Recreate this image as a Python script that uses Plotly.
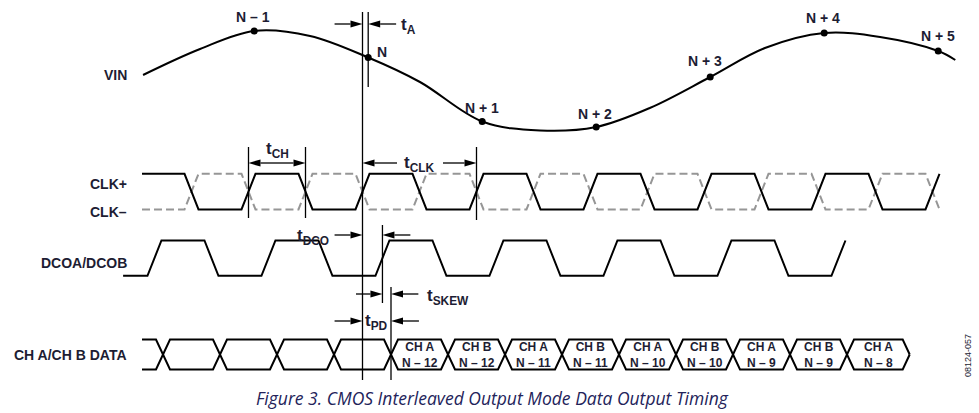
import plotly.graph_objects as go

W, H = 979, 413

# ---- timing, in clock periods; t = 0 is the CLK+ rising edge that samples N ----
T_A = 0.05        # aperture delay
T_DCO = 0.175     # CLK+ to DCO delay
T_PD = 0.25       # CLK+ to data propagation delay
HALF_EDGE = 0.0614

clk_start = -1.934
clk_edges = [-1.5, -1.0, -0.5, 0.0, 0.5, 1.0, 1.5, 2.0, 2.5, 3.0, 3.5, 4.0, 4.5, 5.0]

dco_start = -2.10
dco_edges = [-1.825, -1.325, -0.825, -0.325, 0.175, 0.675, 1.175, 1.675,
             2.175, 2.675, 3.175, 3.675, 4.175]

data_start, data_end = -1.934, 4.80
data_edges = [-1.75, -1.25, -0.75, -0.25, 0.25, 0.75, 1.25, 1.75,
              2.25, 2.75, 3.25, 3.75, 4.25]
cell_channel = ["A", "B", "A", "B", "A", "B", "A", "B", "A"]
cell_sample = [-12, -12, -11, -11, -10, -10, -9, -9, -8]

# analog input, normalised
vin_t = [-1.925, -1.425, -0.95, -0.46, 0.05, 0.504, 1.05, 1.557,
         2.05, 2.52, 3.05, 3.53, 4.05, 4.54, 5.05, 5.20]
vin_v = [0.12, 0.64, 1.00, 0.90, 0.47, -0.02, -0.81, -0.99,
         -0.92, -0.54, 0.08, 0.66, 0.96, 0.88, 0.60, 0.42]

sample_n = [-1, 0, 1, 2, 3, 4, 5]
sample_v = [1.00, 0.47, -0.81, -0.92, 0.08, 0.96, 0.60]
# label offset from each dot (px right, px up)
sample_label_shift = [(-1, 14), (14, 6), (0, 14), (-1, 13), (-5, 16), (-1, 15), (0, 15)]

# ---- layout frame helpers ----
X0_PX, PX_PER_T = 362.5, 114.0
FONT = "Liberation Sans, Arial, sans-serif"
INK = "#1d1d33"
DASH_GREY = "#969696"


def tx(px):
    return (px - X0_PX) / PX_PER_T


def py(p):
    return 1 - p / H


def dom(p_bottom, p_top):
    return [py(p_bottom), py(p_top)]


def wave(start, edges, level):
    xs, ys = [start], [level]
    for e in edges:
        xs += [e - HALF_EDGE, e + HALF_EDGE]
        ys += [level, 1 - level]
        level = 1 - level
    return xs, ys


fig = go.Figure()

# VIN
fig.add_trace(go.Scatter(x=vin_t, y=vin_v, mode="lines", yaxis="y",
                         line=dict(color="black", width=2, shape="spline", smoothing=1.0),
                         hoverinfo="skip"))
sample_t = [n + T_A for n in sample_n]
fig.add_trace(go.Scatter(x=sample_t, y=sample_v, mode="markers", yaxis="y",
                         marker=dict(color="black", size=7), hoverinfo="skip"))

# CLK- (dashed) then CLK+ (solid)
cx, cy = wave(clk_start, clk_edges, 0)
cx.append(clk_edges[-1] + HALF_EDGE); cy.append(cy[-1])
fig.add_trace(go.Scatter(x=cx, y=cy, mode="lines", yaxis="y2",
                         line=dict(color=DASH_GREY, width=2, dash="8px,4px"), hoverinfo="skip"))
cx, cy = wave(clk_start, clk_edges, 1)
fig.add_trace(go.Scatter(x=cx, y=cy, mode="lines", yaxis="y2",
                         line=dict(color="black", width=2), hoverinfo="skip"))

# DCO
dx, dy = wave(dco_start, dco_edges, 0)
fig.add_trace(go.Scatter(x=dx, y=dy, mode="lines", yaxis="y3",
                         line=dict(color="black", width=2), hoverinfo="skip"))

# data bus: two complementary rails that cross at every data edge
for lvl in (1, 0):
    bx, by = wave(data_start, data_edges, lvl)
    bx += [data_end - HALF_EDGE, data_end]
    by += [by[-1], 0.5]
    fig.add_trace(go.Scatter(x=bx, y=by, mode="lines", yaxis="y4",
                             line=dict(color="black", width=2), hoverinfo="skip"))

shapes, annos = [], []


def vline(t, p_top, p_bot):
    shapes.append(dict(type="line", xref="x", yref="paper", x0=t, x1=t,
                       y0=py(p_top), y1=py(p_bot), line=dict(color="black", width=1.3)))


HEAD_L, HEAD_HW = 12 / PX_PER_T, 3.6


def arrow(tail, tip, p):
    d = 1 if tip > tail else -1
    base = tip - d * HEAD_L
    shapes.append(dict(type="line", xref="x", yref="paper", x0=tail, x1=base,
                       y0=py(p), y1=py(p), line=dict(color="black", width=1.3)))
    shapes.append(dict(type="path", xref="x", yref="paper",
                       path=f"M {tip},{py(p)} L {base},{py(p - HEAD_HW)} L {base},{py(p + HEAD_HW)} Z",
                       fillcolor="black", line=dict(width=0)))


def label(text, x, p, anchor="center", size=17, xref="x"):
    annos.append(dict(text=text, x=x, y=py(p), xref=xref, yref="paper", xanchor=anchor,
                      yanchor="middle", showarrow=False,
                      font=dict(family=FONT, size=size, color=INK)))


OUT = 0.245  # length of the outside dimension arrows

# reference lines
vline(0.0, 12, 380)
vline(T_A, 12, 87)
vline(clk_edges[1], 147, 218)
vline(clk_edges[2], 147, 218)
vline(clk_edges[5], 147, 220)
vline(T_DCO, 225, 303)
vline(T_PD, 287, 380)

# tA
arrow(0.0 - OUT, 0.0, 24); arrow(T_A + OUT, T_A, 24)
label("<b>t<sub>A</sub></b>", tx(399), 26, "left")
# tCH
mid = (clk_edges[1] + clk_edges[2]) / 2
arrow(mid, clk_edges[1], 163); arrow(mid, clk_edges[2], 163)
label("<b>t<sub>CH</sub></b>", mid, 150)
# tCLK
arrow(0.0 + 0.303, 0.0, 163); arrow(clk_edges[5] - 0.294, clk_edges[5], 163)
label("<b>t<sub>CLK</sub></b>", 0.5, 164)
# tDCO
arrow(0.0 - OUT, 0.0, 235); arrow(T_DCO + OUT, T_DCO, 235)
label("<b>t<sub>DCO</sub></b>", tx(331), 237, "right")
# tSKEW
arrow(T_DCO - 0.232, T_DCO, 294); arrow(T_PD + 0.24, T_PD, 294)
label("<b>t<sub>SKEW</sub></b>", tx(425), 297, "left")
# tPD
arrow(0.0 - OUT, 0.0, 321); arrow(T_PD + OUT, T_PD, 321)
label("<b>t<sub>PD</sub></b>", T_PD / 2, 322)

# row names
for txt, p in [("VIN", 75), ("CLK+", 184), ("CLK–", 212),
               ("DCOA/DCOB", 263), ("CH A/CH B DATA", 355)]:
    label(f"<b>{txt}</b>", 129 / W, p, "right", 14, "paper")

# sample names
for n, t, v, (sx, sy) in zip(sample_n, sample_t, sample_v, sample_label_shift):
    name = "N" if n == 0 else (f"N + {n}" if n > 0 else f"N – {-n}")
    annos.append(dict(text=f"<b>{name}</b>", x=t, y=v, xref="x", yref="y",
                      xshift=sx, yshift=sy, showarrow=False,
                      xanchor="center", yanchor="middle",
                      font=dict(family=FONT, size=14, color=INK)))

# data cell contents
starts = data_edges[4:]
ends = data_edges[5:] + [data_end]
for ch, n, a, b in zip(cell_channel, cell_sample, starts, ends):
    annos.append(dict(text=f"<b>CH {ch}<br>N – {-n}</b>", x=(a + b) / 2, y=0.5,
                      xref="x", yref="y4", showarrow=False,
                      xanchor="center", yanchor="middle",
                      font=dict(family=FONT, size=12, color=INK)))

# caption and figure code
annos.append(dict(text="<i>Figure 3. CMOS Interleaved Output Mode Data Output Timing</i>",
                  x=492 / W, y=py(398), xref="paper", yref="paper", showarrow=False,
                  xanchor="center", yanchor="middle",
                  font=dict(family="Open Sans, sans-serif", size=17.5, color="#23235a")))
annos.append(dict(text="08124-057", x=968 / W, y=py(356), xref="paper", yref="paper",
                  showarrow=False, textangle=-90, xanchor="center", yanchor="middle",
                  font=dict(family=FONT, size=9, color=INK)))

hidden = dict(visible=False, fixedrange=True)
fig.update_layout(
    width=W, height=H, margin=dict(l=0, r=0, t=0, b=0),
    paper_bgcolor="white", plot_bgcolor="white", showlegend=False,
    xaxis=dict(range=[tx(0), tx(W)], domain=[0, 1], anchor="y", **hidden),
    yaxis=dict(range=[-1.5, 1.5], domain=dom(156, 6), anchor="x", **hidden),
    yaxis2=dict(range=[-0.5, 1.5], domain=dom(227.25, 156), anchor="x", **hidden),
    yaxis3=dict(range=[-0.5, 1.5], domain=dom(293.45, 222.85), anchor="x", **hidden),
    yaxis4=dict(range=[-0.25, 1.25], domain=dom(377, 332), anchor="x", **hidden),
    shapes=shapes, annotations=annos,
)

fig.write_html("out.html")
